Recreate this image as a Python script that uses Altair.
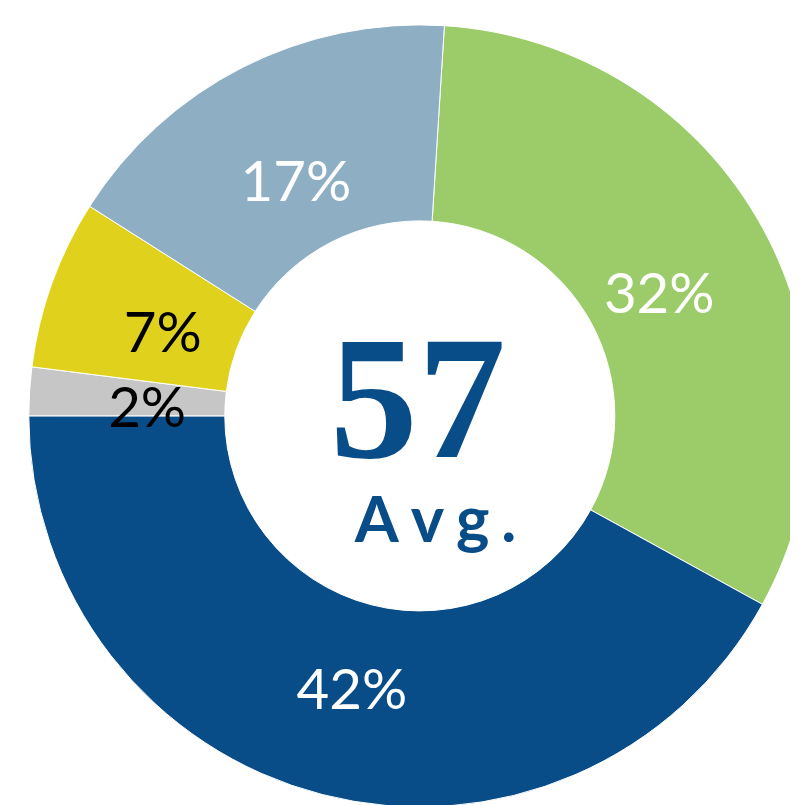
import altair as alt
import pandas as pd

categories = ["A", "B", "C", "D", "E"]
values = [32, 42, 2, 7, 17]
labels = ["32%", "42%", "2%", "7%", "17%"]
colors = ["#9ccc69", "#084d87", "#c6c6c6", "#e0d21c", "#8eafc3"]
label_colors = ["white", "white", "black", "black", "white"]
center_value = "57"
center_label = "A\u2009\u200av\u2009\u200ag\u2009\u200a."

df = pd.DataFrame({
    "cat": categories,
    "value": values,
    "label": labels,
    "color": colors,
    "lcolor": label_colors,
    "idx": list(range(len(values))),
})

offset = 0.063
theta_scale = alt.Scale(range=[offset, offset + 2 * 3.141592653589793])
cx, cy = 416, 408

base = alt.Chart(df).encode(
    theta=alt.Theta("value:Q", stack=True, scale=theta_scale),
    order=alt.Order("idx:Q", sort="ascending"),
)

arcs = base.mark_arc(outerRadius=395, innerRadius=197, stroke="white", strokeWidth=1).encode(
    color=alt.Color("color:N", scale=None),
    x=alt.value(cx), y=alt.value(cy),
)

texts = base.mark_text(radius=276, font="Lato", fontSize=57, fontWeight="normal",
                       align="center", baseline="middle", dy=12).encode(
    text="label:N",
    color=alt.Color("lcolor:N", scale=None),
    x=alt.value(cx), y=alt.value(cy),
)

cdf = pd.DataFrame({"v": [center_value], "l": [center_label]})
big = alt.Chart(cdf).mark_text(font="Liberation Serif", fontWeight="bold", fontSize=178,
                               color="#084d87", align="center", baseline="alphabetic").encode(
    text="v:N", x=alt.value(cx - 2), y=alt.value(cy + 42))
small = alt.Chart(cdf).mark_text(font="Lato", fontWeight="bold", fontSize=64,
                                 color="#084d87", align="center", baseline="alphabetic").encode(
    text="l:N", x=alt.value(cx + 16), y=alt.value(cy + 127))

chart = alt.layer(arcs, texts, big, small).properties(
    width=790, height=797, padding=0, autosize=alt.AutoSizeParams(type="none")
).configure_view(stroke=None)

chart.save("out.html", embed_options={"renderer": "svg", "actions": False})
